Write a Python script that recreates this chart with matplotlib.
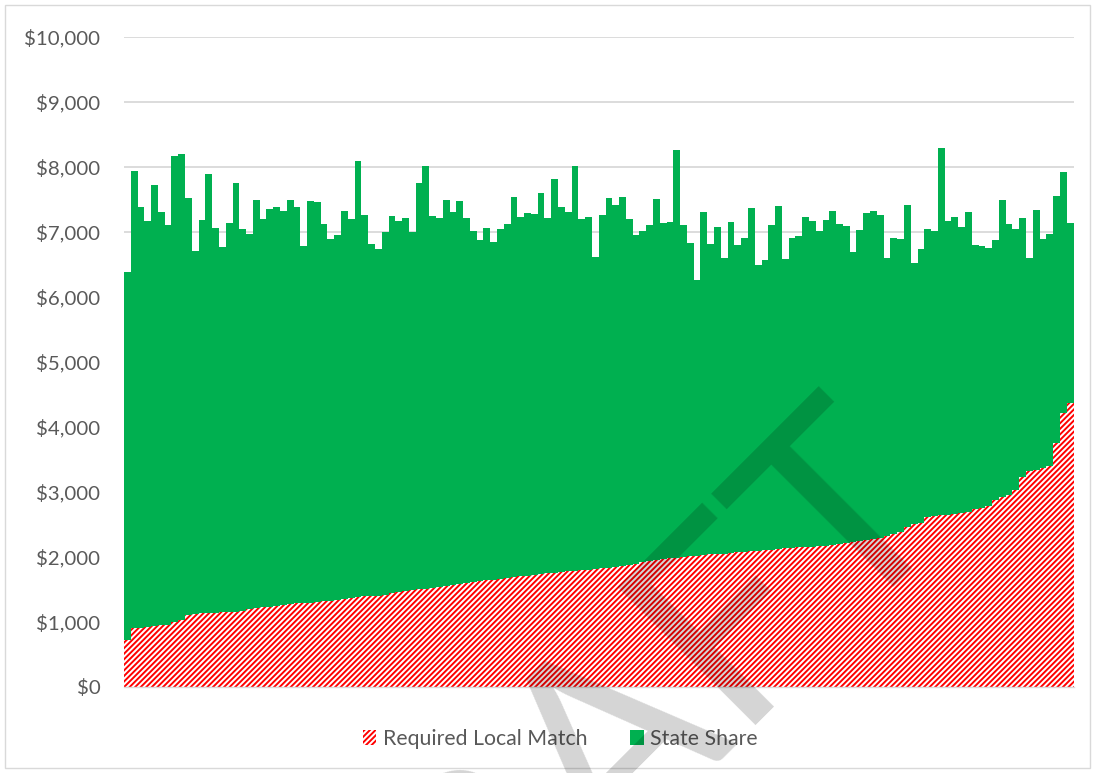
"""Stacked bars: required local match (hatched) under state share, with DRAFT watermark."""
import matplotlib
matplotlib.use("Agg")
import matplotlib.pyplot as plt
import numpy as np
from matplotlib.patches import Rectangle
from matplotlib.ticker import FuncFormatter

plt.rcParams["font.family"] = ["Lato", "DejaVu Sans"]
plt.rcParams["hatch.linewidth"] = 1.4

# total per-unit cost (top of each stacked bar)
total_cost = [
    6386, 7934, 7386, 7173, 7716, 7315, 7101, 8168, 8203, 7518,
    6711, 7183, 7893, 7066, 6772, 7142, 7761, 7046, 6964, 7497,
    7193, 7360, 7381, 7325, 7497, 7386, 6777, 7472, 7467, 7127,
    6893, 6949, 7320, 7198, 8086, 7259, 6812, 6746, 7000, 7244,
    7162, 7208, 6995, 7751, 8010, 7239, 7208, 7492, 7310, 7482,
    7208, 7010, 6883, 7061, 6848, 7046, 7117, 7533, 7234, 7294,
    7279, 7599, 7218, 7822, 7391, 7310, 8020, 7198, 7234, 6619,
    7264, 7523, 7421, 7533, 7193, 6954, 7010, 7112, 7508, 7132,
    7147, 8254, 7102, 6838, 6264, 7315, 6822, 7071, 6604, 7147,
    6802, 6914, 7376, 6492, 6569, 7102, 7396, 6579, 6914, 6939,
    7234, 7168, 7015, 7178, 7325, 7122, 7096, 6695, 7030, 7294,
    7330, 7254, 6604, 6914, 6898, 7421, 6518, 6736, 7041, 7020,
    8299, 7173, 7234, 7081, 7310, 6797, 6792, 6761, 6873, 7497,
    7122, 7051, 7223, 6594, 7340, 6898, 6964, 7548, 7919, 7132,
]

# required local match (bottom, hatched segment)
local_match = [
    725, 905, 915, 925, 940, 950, 960, 1000, 1030, 1110,
    1130, 1135, 1140, 1145, 1150, 1155, 1160, 1170, 1200, 1210,
    1225, 1235, 1245, 1255, 1270, 1285, 1295, 1300, 1310, 1320,
    1330, 1345, 1355, 1375, 1385, 1395, 1400, 1405, 1420, 1445,
    1460, 1480, 1495, 1505, 1515, 1525, 1540, 1555, 1570, 1580,
    1595, 1610, 1625, 1640, 1650, 1665, 1680, 1695, 1705, 1715,
    1725, 1740, 1750, 1760, 1770, 1780, 1790, 1800, 1805, 1815,
    1825, 1835, 1845, 1860, 1880, 1900, 1920, 1945, 1960, 1970,
    1980, 1990, 2000, 2010, 2020, 2030, 2040, 2045, 2050, 2060,
    2070, 2080, 2085, 2095, 2105, 2115, 2125, 2135, 2140, 2150,
    2155, 2160, 2165, 2175, 2190, 2205, 2220, 2235, 2250, 2265,
    2280, 2300, 2325, 2355, 2385, 2465, 2505, 2520, 2620, 2630,
    2640, 2650, 2665, 2680, 2700, 2740, 2760, 2790, 2875, 2920,
    2955, 3030, 3235, 3330, 3340, 3365, 3400, 3750, 4210, 4370,
]

series_labels = ["Required Local Match", "State Share"]
y_ticks = list(range(0, 10001, 1000))

GREEN = "#00B050"
RED = "#FF0000"
TEXT = "#595959"
GRID = "#D9D9D9"


def main() -> None:
    local = np.array(local_match, dtype=float)
    state = np.array(total_cost, dtype=float) - local
    x = np.arange(len(local))

    fig = plt.figure(figsize=(10.93, 7.73), dpi=100)
    ax = fig.add_axes([124 / 1093, 86 / 773, 949.5 / 1093, 650 / 773])

    ax.bar(x, local, width=1.0, color="white", edgecolor=RED, hatch="//////",
           linewidth=0, label=series_labels[0], zorder=2)
    ax.bar(x, state, width=1.0, bottom=local, color=GREEN, linewidth=0,
           label=series_labels[1], zorder=2)

    ax.set_xlim(-0.5, len(x) - 0.5)
    ax.set_ylim(0, 10000)
    ax.set_yticks(y_ticks)
    ax.yaxis.set_major_formatter(FuncFormatter(lambda v, _: f"${v:,.0f}"))
    ax.set_xticks([])
    ax.tick_params(axis="y", length=0, pad=17, labelsize=14.7, labelcolor=TEXT)
    ax.grid(axis="y", color=GRID, linewidth=1.3, zorder=0)
    ax.set_axisbelow(True)
    for side in ("left", "right", "top"):
        ax.spines[side].set_visible(False)
    ax.spines["bottom"].set_color(GRID)
    ax.spines["bottom"].set_linewidth(1.0)

    fig.legend(loc="center", bbox_to_anchor=(560 / 1093, 1 - 739 / 773), ncol=2,
               frameon=False, fontsize=15.3, labelcolor=TEXT, handlelength=0.65,
               handleheight=0.65, handletextpad=0.3, columnspacing=2.0)

    # chart-area border
    fig.patches.append(Rectangle((5 / 1093, 5 / 773), 1085 / 1093, 763 / 773,
                                 transform=fig.transFigure, fill=False,
                                 edgecolor=GRID, linewidth=1.0))

    # watermark
    fig.text(953 / 1093, 1 - 503 / 773, "DRAFT", rotation=45, rotation_mode="anchor",
             ha="right", va="baseline", fontsize=195, color="black", alpha=0.17,
             zorder=10)

    fig.savefig("out.png", dpi=100)
    plt.close(fig)


if __name__ == "__main__":
    main()
